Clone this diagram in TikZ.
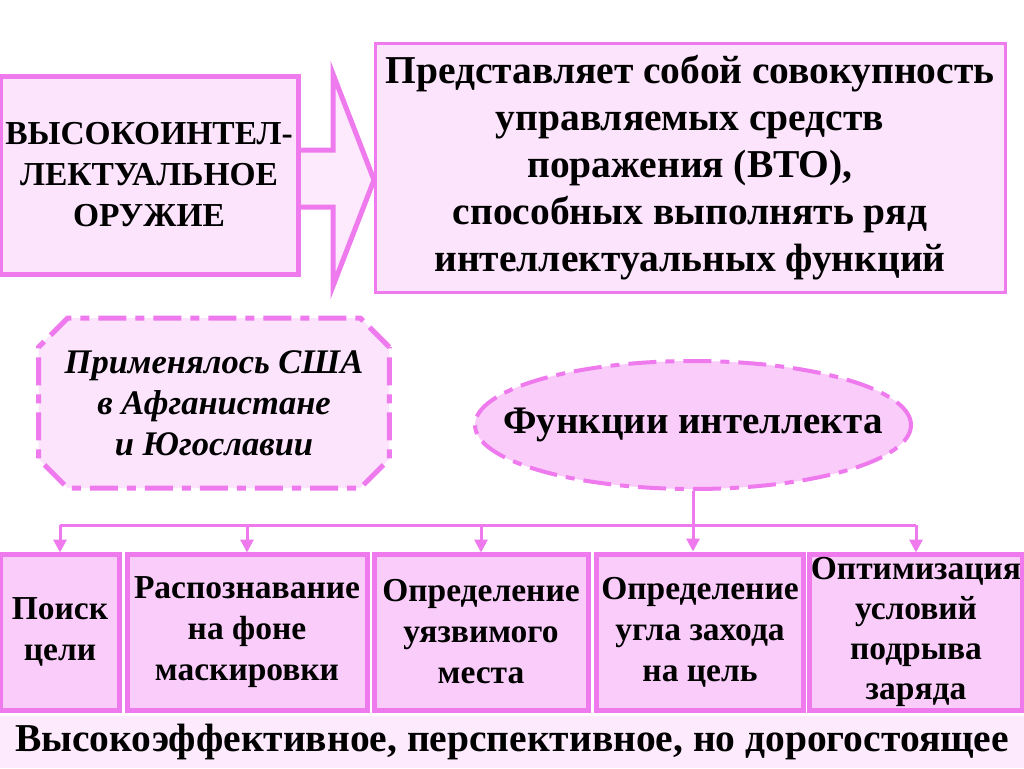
\documentclass[tikz,border=0pt]{standalone}
\usepackage{fontspec}
\setmainfont{Liberation Serif}
\usetikzlibrary{shapes.geometric,shapes.misc,arrows.meta}
\definecolor{rim}{RGB}{238,122,238}
\definecolor{paleA}{RGB}{252,228,252}
\definecolor{paleB}{RGB}{249,204,249}
\definecolor{paleC}{RGB}{253,234,253}
\begin{document}
\begin{tikzpicture}[x=1pt,y=-1pt,
  box/.style={draw=rim, line width=5pt, fill=paleA, align=center, font=\bfseries},
  fbox/.style={draw=rim, line width=5pt, fill=paleB, align=center, inner sep=0pt,
    minimum height=156pt, font=\bfseries\fontsize{33.5}{41}\selectfont},
  dashdot/.style={dash pattern=on 28pt off 9pt on 9pt off 9pt},
  conn/.style={draw=rim, line width=3pt},
  tip/.style={-{Triangle[width=13pt,length=13pt]}}]
\useasboundingbox (0,0) rectangle (1024,768);
\fill[white] (0,0) rectangle (1024,768);
% block arrow
\draw[rim, line width=5pt, fill=paleC, line join=miter]
  (298,150) -- (333,150) -- (333,74) -- (374,180) -- (333,286) -- (333,207) -- (298,207);
\node[box, minimum width=298pt, minimum height=198pt,
  font=\bfseries\fontsize{33.5}{41}\selectfont] (weapon) at (149,175)
  {ВЫСОКОИНТЕЛ-\\ЛЕКТУАЛЬНОЕ\\ОРУЖИЕ};
\node[box, line width=3pt, minimum width=630pt, minimum height=248pt,
  font=\bfseries\fontsize{39.5}{47}\selectfont] (defn) at (690,168)
  {Представляет собой совокупность\\управляемых средств\\поражения (ВТО),\\способных выполнять ряд\\интеллектуальных функций};
\node[box, dashdot, chamfered rectangle, chamfered rectangle xsep=26pt,
  inner sep=0pt, minimum width=344pt, minimum height=170pt,
  font=\bfseries\itshape\fontsize{34.5}{41}\selectfont] (usa) at (214,403)
  {Применялось США\\в Афганистане\\и Югославии};
\node[box, dashdot, ellipse, inner xsep=-45pt, inner ysep=0pt, fill=paleB,
  minimum width=436pt, minimum height=128pt,
  line width=4pt, font=\bfseries\fontsize{39}{40}\selectfont] (func) at (693,425)
  {Функции интеллекта};
% functions
\node[fbox, minimum width=119pt] (f1) at (60,632) {Поиск\\цели};
\node[fbox, minimum width=240pt] (f2) at (247,632) {Распознавание\\на фоне\\маскировки};
\node[fbox, minimum width=214pt] (f3) at (481,632) {Определение\\уязвимого\\места};
\node[fbox, minimum width=207pt] (f4) at (700,632) {Определение\\угла захода\\на цель};
\node[fbox, minimum width=213pt, font=\bfseries\fontsize{33.5}{40}\selectfont] (f5) at (916,632)
  {Оптимизация\\условий\\подрыва\\заряда};
\coordinate (bus) at (693,525);
\draw[conn] (func.south) -- (bus);
\draw[conn] (bus -| f1.north) -- (bus -| f5.north);
\foreach \n in {f1,f2,f3,f5}
  \draw[conn, tip] (bus -| \n.north) -- ([yshift=-1pt]\n.north);
\draw[conn, tip] (bus) -- (bus |- f4.north);
% bottom band
\node[fill=paleC, minimum width=1024pt, minimum height=52pt, inner sep=0pt,
  font=\bfseries\fontsize{39.5}{40}\selectfont] (verdict) at (512,742)
  {Высокоэффективное, перспективное, но дорогостоящее};
\end{tikzpicture}
\end{document}
